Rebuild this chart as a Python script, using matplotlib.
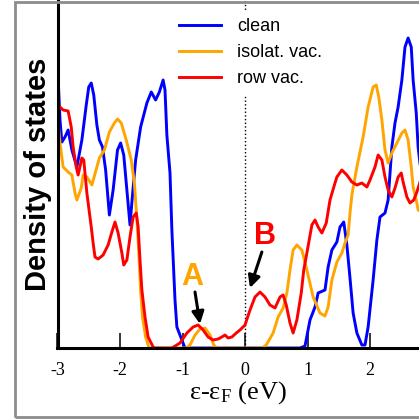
import numpy as np
import matplotlib
matplotlib.use("Agg")
import matplotlib.pyplot as plt
from matplotlib.patches import Rectangle

# energies (eV) and DOS (arb. units)
clean_e = [-3.00, -2.98, -2.96, -2.93, -2.88, -2.83, -2.77, -2.69, -2.61, -2.54,
           -2.50, -2.46, -2.42, -2.37, -2.33, -2.28, -2.23, -2.17, -2.11, -2.04,
           -1.99, -1.94, -1.89, -1.84, -1.80, -1.75, -1.67, -1.57, -1.50, -1.43,
           -1.37, -1.31, -1.28, -1.25, -1.20, -1.17, -1.12, -1.09, -1.01, -0.96,
           0.88, 0.96, 1.04, 1.12, 1.17, 1.28, 1.33, 1.39, 1.47, 1.52,
           1.58, 1.63, 1.68, 1.73, 1.79, 1.87, 1.92, 1.97, 2.05, 2.11,
           2.16, 2.24, 2.29, 2.35, 2.40, 2.45, 2.51, 2.56, 2.61, 2.66,
           2.69, 2.74, 2.77, 2.83]
clean_d = [28.0, 25.6, 22.8, 20.6, 21.1, 21.8, 19.8, 18.1, 20.8, 24.3,
           26.1, 26.5, 25.3, 22.3, 20.8, 20.1, 17.8, 13.3, 15.8, 19.8,
           20.5, 19.3, 15.8, 12.3, 15.3, 18.8, 22.1, 24.5, 25.6, 24.8,
           25.6, 26.8, 25.8, 21.3, 17.5, 11.8, 4.8, 2.1, 0.8, 0.0,
           0.0, 0.2, 2.8, 4.1, 5.5, 5.8, 8.1, 9.8, 10.6, 12.1,
           12.6, 10.3, 7.0, 3.5, 1.5, 0.3, 0.3, 2.1, 6.8, 10.8,
           13.1, 13.5, 14.8, 20.1, 22.5, 24.1, 26.8, 30.1, 31.0, 30.1,
           26.8, 23.5, 20.1, 16.8]

isol_e = [-3.00, -2.98, -2.96, -2.91, -2.83, -2.77, -2.72, -2.69, -2.62, -2.59,
          -2.53, -2.45, -2.37, -2.33, -2.25, -2.17, -2.09, -2.04, -1.98, -1.90,
          -1.82, -1.77, -1.74, -1.71, -1.67, -1.64, -1.59, -1.54, -1.52, -0.94,
          -0.88, -0.80, -0.72, -0.64, -0.56, -0.50, -0.45, 0.27, 0.34, 0.45,
          0.53, 0.61, 0.67, 0.72, 0.77, 0.83, 0.91, 0.99, 1.09, 1.20,
          1.28, 1.33, 1.39, 1.47, 1.55, 1.60, 1.65, 1.68, 1.71, 1.79,
          1.89, 1.97, 2.05, 2.10, 2.14, 2.19, 2.24, 2.29, 2.35, 2.43,
          2.51, 2.56, 2.61, 2.66, 2.69, 2.74, 2.77, 2.83]
isol_d = [23.8, 21.8, 20.5, 18.1, 17.6, 17.3, 15.5, 14.8, 16.0, 17.3,
          17.1, 16.3, 18.1, 19.0, 19.8, 21.6, 22.5, 22.9, 22.5, 20.8,
          18.8, 16.5, 13.8, 10.8, 5.8, 3.1, 1.1, 0.1, 0.0, 0.0,
          0.3, 1.3, 1.9, 2.0, 1.3, 0.3, 0.0, 0.0, 0.3, 1.5,
          3.1, 4.0, 5.5, 7.8, 9.8, 10.3, 9.8, 7.8, 5.1, 3.5,
          3.2, 4.1, 6.8, 8.6, 9.5, 10.5, 11.3, 13.5, 15.3, 18.1,
          21.1, 24.1, 26.1, 26.3, 25.1, 22.8, 19.8, 18.5, 19.5, 20.5,
          21.5, 21.8, 20.8, 18.1, 16.1, 14.8, 13.8, 13.6]

row_e = [-3.00, -2.96, -2.91, -2.83, -2.78, -2.75, -2.70, -2.67, -2.61, -2.58,
         -2.53, -2.46, -2.43, -2.40, -2.35, -2.27, -2.19, -2.13, -2.08, -2.03,
         -1.97, -1.94, -1.89, -1.84, -1.79, -1.74, -1.71, -1.68, -1.65, -1.60,
         -1.55, -1.47, -1.44, -1.17, -1.04, -0.93, -0.83, -0.75, -0.67, -0.59,
         -0.51, -0.43, -0.37, -0.32, -0.27, -0.21, -0.14, -0.08, 0.00, 0.08,
         0.16, 0.24, 0.32, 0.40, 0.48, 0.56, 0.61, 0.66, 0.72, 0.77,
         0.83, 0.90, 0.94, 0.99, 1.07, 1.12, 1.17, 1.23, 1.30, 1.36,
         1.44, 1.47, 1.55, 1.63, 1.71, 1.79, 1.87, 1.95, 2.00, 2.08,
         2.13, 2.19, 2.24, 2.29, 2.35, 2.40, 2.45, 2.50, 2.53, 2.59,
         2.64, 2.70, 2.75, 2.80]
row_d = [24.5, 24.1, 23.8, 23.7, 22.1, 20.1, 18.1, 17.3, 19.0, 18.8,
         15.5, 12.1, 10.5, 9.1, 8.9, 9.3, 10.3, 11.6, 12.6, 11.5,
         9.5, 8.3, 8.8, 11.1, 13.1, 13.5, 12.1, 8.8, 5.8, 3.1,
         1.1, 0.1, 0.0, 0.0, 0.5, 1.5, 2.1, 2.3, 1.8, 1.1,
         0.8, 0.9, 1.1, 1.3, 1.0, 1.1, 1.5, 1.8, 2.3, 3.8,
         5.1, 5.6, 5.1, 4.3, 4.0, 5.1, 5.3, 4.3, 2.5, 1.5,
         2.8, 5.5, 7.8, 9.5, 12.3, 12.8, 12.1, 11.5, 12.5, 14.8,
         16.5, 17.1, 17.8, 17.3, 16.6, 16.3, 16.5, 16.1, 16.8, 18.1,
         19.3, 18.8, 17.1, 15.8, 15.1, 16.0, 17.1, 17.5, 16.6, 15.1,
         14.5, 14.8, 15.6, 16.6]

xticks = [-3, -2, -1, 0, 1, 2]

W = 419.0
fig = plt.figure(figsize=(4.19, 4.19), dpi=100)

# gray outer frame
fig.patches.append(Rectangle((14.5 / W, 2.5 / W), 1.2, (414.0) / W,
                             transform=fig.transFigure, fill=False,
                             edgecolor='#8c8c8c', linewidth=2.0))

ax = fig.add_axes([57.5 / W, 71.0 / W, (W - 57.5) / W, 348.0 / W])
ax.set_xlim(-3, 2.784)
ax.set_ylim(0, 34.8)

ax.plot(clean_e, clean_d, color='#0000ff', lw=2.1, label='clean')
ax.plot(isol_e, isol_d, color='#ffa500', lw=2.1, label='isolat. vac.')
ax.plot(row_e, row_d, color='#ff0000', lw=2.1, label='row vac.')
ax.axvline(0, color='black', ls=':', lw=1.0, zorder=0)

for s in ['top', 'right']:
    ax.spines[s].set_visible(False)
for s in ['left', 'bottom']:
    ax.spines[s].set_linewidth(2.2)

ax.set_xticks(xticks)
ax.set_xticklabels([str(t) for t in xticks], family='Liberation Serif', fontsize=13)
ax.set_yticks([])
ax.tick_params(axis='x', direction='in', length=11, width=1.1, pad=10)

ax.set_xlabel(r'$\mathregular{\varepsilon}$-$\mathregular{\varepsilon_F}$ (eV)',
              family='Liberation Serif', fontsize=19, labelpad=0)
ax.set_ylabel('Density of states', family='Liberation Sans', fontweight='bold',
              fontsize=21, labelpad=4)

leg = ax.legend(loc='upper left', bbox_to_anchor=(172 / W, 1 - 11 / W),
                bbox_transform=fig.transFigure, prop={'family': 'Liberation Sans', 'size': 13},
                frameon=True, facecolor='white', edgecolor='white', framealpha=1,
                handlelength=2.3, handletextpad=0.9, labelspacing=0.5,
                borderpad=0.4, borderaxespad=0)

arrow = dict(arrowstyle='-|>', color='black', lw=2.2, mutation_scale=18,
             shrinkA=0, shrinkB=0)
ax.text(-0.85, 7.1, 'A', color='#ffa500', fontsize=22, fontweight='bold',
        family='Liberation Sans', ha='center', va='center')
ax.annotate('', xy=(-0.72, 2.4), xytext=(-0.80, 5.6), arrowprops=arrow)
ax.text(0.32, 11.2, 'B', color='#ff0000', fontsize=22, fontweight='bold',
        family='Liberation Sans', ha='center', va='center')
ax.annotate('', xy=(0.08, 6.0), xytext=(0.27, 9.6), arrowprops=arrow)

fig.savefig('out.png', dpi=100)
